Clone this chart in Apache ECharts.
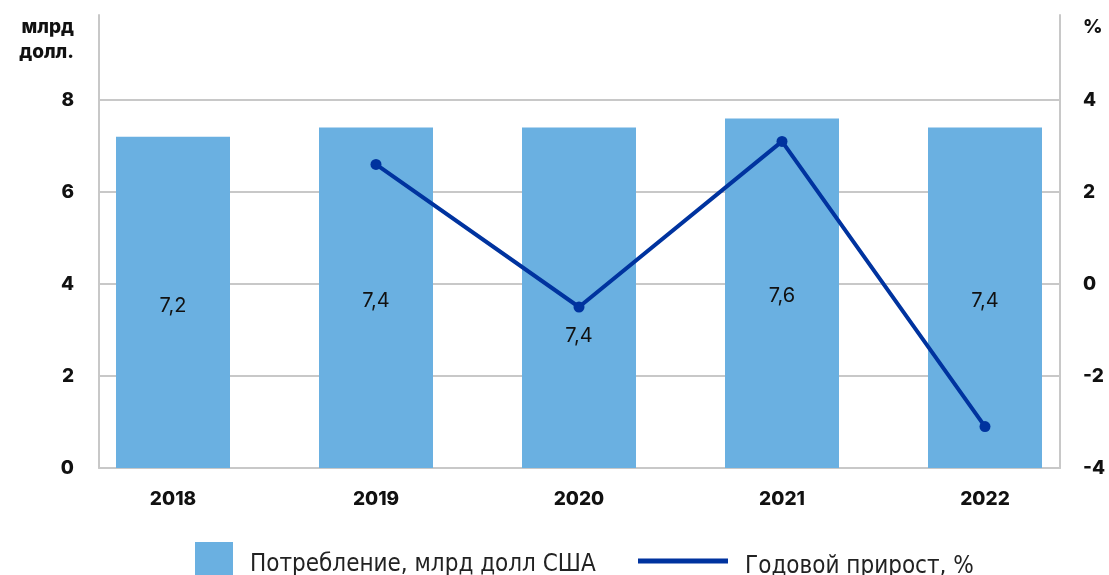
<!DOCTYPE html>
<html>
<head>
<meta charset="utf-8">
<script src="https://cdn.jsdelivr.net/npm/echarts@6/dist/echarts.min.js"></script>
<style>
  html, body { margin: 0; padding: 0; background: #fff; }
  #chart { width: 1109px; height: 575px; }
</style>
</head>
<body>
<div id="chart"></div>
<script>
// Потребление и годовой прирост, 2018–2022
const years = ['2018', '2019', '2020', '2021', '2022'];
const consumption = [7.2, 7.4, 7.4, 7.6, 7.4];        // млрд долл США
const growth = [null, 2.6, -0.5, 3.1, -3.1];          // %
const leftTicks = [0, 2, 4, 6, 8];
const rightTicks = [-4, -2, 0, 2, 4];

const FONT = 'Inter, "Noto Sans", sans-serif';
const LEGEND_FONT = '"Liberation Sans Narrow", "DejaVu Sans Condensed", "Noto Sans", sans-serif';
const BAR_COLOR = '#6ab0e1';
const LINE_COLOR = '#00339f';
const AXIS_GRAY = '#c8c8c8';
const TEXT = '#111';

// Axes run a little above the top tick; that extra band carries no gridline
const leftMin = 0;
const leftMax = 8 * 453 / 368;
const rightMin = -4;
const rightMax = rightMin + 8 * 453 / 368;
const splitColors = [AXIS_GRAY, AXIS_GRAY, AXIS_GRAY, AXIS_GRAY, AXIS_GRAY, 'rgba(0,0,0,0)'];

const labelOffsets = [[0, 4], [0, 3], [0, 38], [0, 3], [0, 3]];
const fmt = v => String(v).replace('.', ',');
const tickLabel = ticks => v => (ticks.includes(v) ? String(v) : '');

const boldLabel = { fontSize: 19, fontWeight: 800, color: TEXT, fontFamily: FONT };
// legend caption sits a little below the middle of its key: an empty spacer line goes first
const legendText = {
  fontFamily: LEGEND_FONT, fontSize: 24, color: '#222',
  padding: [0, 0, 0, 12],
  rich: {
    s: { fontSize: 2, lineHeight: 11 },
    t: { fontFamily: LEGEND_FONT, fontSize: 24, color: '#222', lineHeight: 24 }
  }
};
const legendFormatter = name => '{s| }\n{t|' + name + '}';

const chart = echarts.init(document.getElementById('chart'), null, { renderer: 'canvas' });
chart.setOption({
  animation: false,
  textStyle: { fontFamily: FONT },
  grid: [
    // frame: axis lines and gridlines
    { left: 99, right: 49, top: 15, bottom: 107 },
    // plotting band for the categories (slightly wider than the frame)
    { left: 71.5, right: 22.5, top: 15, bottom: 107 }
  ],
  legend: [
    {
      data: [{ name: 'Потребление, млрд долл США', icon: 'rect' }],
      left: 195, top: 542, padding: 0,
      itemWidth: 38, itemHeight: 34, itemGap: 0,
      formatter: legendFormatter,
      textStyle: legendText
    },
    {
      data: [{ name: 'Годовой прирост, %', icon: 'rect', itemStyle: { color: LINE_COLOR } }],
      left: 638, top: 548, padding: 0,
      itemWidth: 90, itemHeight: 5, itemGap: 0,
      formatter: legendFormatter,
      textStyle: legendText
    }
  ],
  xAxis: [
    {
      gridIndex: 0,
      type: 'value',
      min: 0, max: 1,
      axisLine: { show: true, lineStyle: { color: AXIS_GRAY, width: 2 } },
      axisTick: { show: false },
      axisLabel: { show: false },
      splitLine: { show: false }
    },
    {
      gridIndex: 1,
      type: 'category',
      data: years,
      axisLine: { show: false },
      axisTick: { show: false },
      axisLabel: Object.assign({ margin: 22 }, boldLabel)
    }
  ],
  yAxis: [
    {
      gridIndex: 0,
      type: 'value',
      min: leftMin, max: leftMax, interval: 2,
      name: 'млрд\nдолл.',
      nameLocation: 'end',
      nameGap: 0,
      nameTextStyle: Object.assign({
        align: 'right', verticalAlign: 'top', lineHeight: 25,
        padding: [0, 25, 0, 0]
      }, boldLabel),
      axisLine: { show: true, lineStyle: { color: AXIS_GRAY, width: 2 } },
      axisTick: { show: false },
      splitLine: { lineStyle: { color: splitColors, width: 2 } },
      axisLabel: Object.assign({ margin: 25, formatter: tickLabel(leftTicks) }, boldLabel)
    },
    {
      gridIndex: 0,
      type: 'value',
      position: 'right',
      min: rightMin, max: rightMax, interval: 2,
      name: '%',
      nameLocation: 'end',
      nameGap: 0,
      nameTextStyle: Object.assign({
        align: 'left', verticalAlign: 'top', lineHeight: 25,
        padding: [0, 0, 0, 23]
      }, boldLabel),
      axisLine: { show: true, lineStyle: { color: AXIS_GRAY, width: 2 } },
      axisTick: { show: false },
      splitLine: { show: false },
      axisLabel: Object.assign({ margin: 23, formatter: tickLabel(rightTicks) }, boldLabel)
    },
    // same scales, drawn invisibly on the plotting band
    {
      gridIndex: 1, type: 'value', min: leftMin, max: leftMax, interval: 2,
      show: false
    },
    {
      gridIndex: 1, type: 'value', position: 'right', min: rightMin, max: rightMax, interval: 2,
      show: false
    }
  ],
  series: [
    {
      name: 'Потребление, млрд долл США',
      type: 'bar',
      xAxisIndex: 1,
      yAxisIndex: 2,
      barWidth: 114,
      itemStyle: { color: BAR_COLOR },
      data: consumption.map((v, i) => ({
        value: v,
        label: { offset: labelOffsets[i] }
      })),
      label: {
        show: true,
        position: 'inside',
        fontSize: 20,
        color: TEXT,
        fontFamily: FONT,
        formatter: p => fmt(p.value)
      },
      z: 1
    },
    {
      name: 'Годовой прирост, %',
      type: 'line',
      xAxisIndex: 1,
      yAxisIndex: 3,
      data: growth,
      symbol: 'circle',
      symbolSize: 11,
      lineStyle: { color: LINE_COLOR, width: 4 },
      itemStyle: { color: LINE_COLOR },
      z: 3
    }
  ]
});
</script>
</body>
</html>
